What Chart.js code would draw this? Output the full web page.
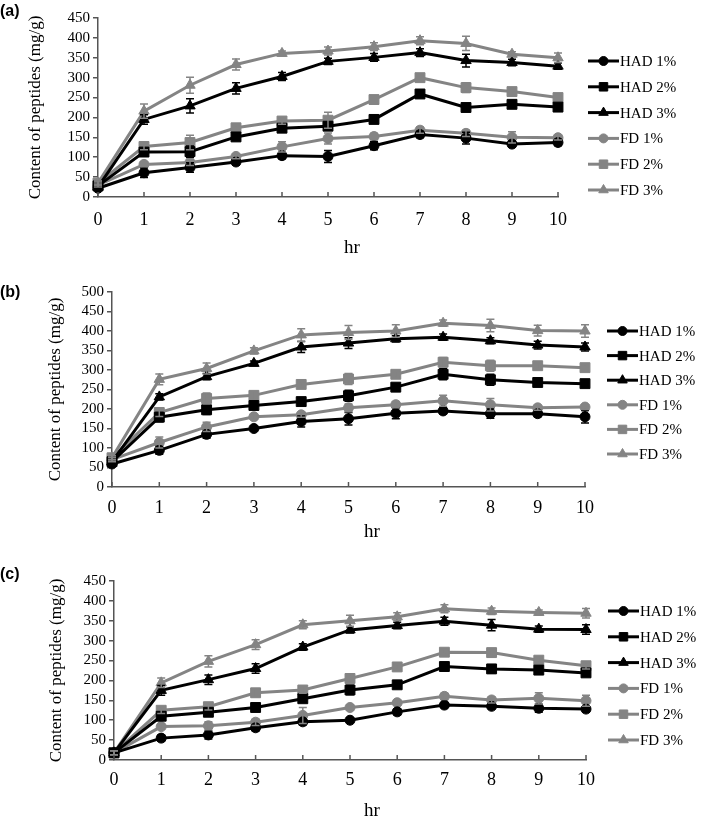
<!DOCTYPE html>
<html>
<head>
<meta charset="utf-8">
<script src="https://cdn.jsdelivr.net/npm/chart.js@4.4.0/dist/chart.umd.min.js"></script>
<style>
  body { margin: 0; background: #fff; }
  canvas { position: absolute; left: 0; }
</style>
</head>
<body>
<canvas id="chartA" width="709" height="270" style="top:0px"></canvas>
<canvas id="chartB" width="709" height="280" style="top:270px"></canvas>
<canvas id="chartC" width="709" height="286" style="top:550px"></canvas>
<script>
// ---- data ----
const hours = ['0', '1', '2', '3', '4', '5', '6', '7', '8', '9', '10'];
const seriesNames = ['HAD 1%', 'HAD 2%', 'HAD 3%', 'FD 1%', 'FD 2%', 'FD 3%'];

// panel (a)
const aHad1 = [22, 61, 74, 88, 104, 102, 129, 157, 148, 133, 137];
const aHad2 = [28, 113, 114, 151, 173, 178, 195, 259, 225, 233, 226];
const aHad3 = [25, 195, 229, 273, 303, 341, 351, 363, 343, 338, 329];
const aFd1 = [30, 82, 87, 102, 126, 147, 152, 168, 160, 150, 149];
const aFd2 = [35, 127, 137, 174, 191, 193, 245, 300, 275, 265, 250];
const aFd3 = [35, 216, 281, 333, 361, 367, 378, 393, 386, 359, 350];
const aHad1Err = [5, 12, 12, 8, 8, 15, 10, 8, 15, 8, 8];
const aHad2Err = [5, 8, 14, 8, 8, 10, 6, 8, 8, 8, 6];
const aHad3Err = [5, 12, 18, 14, 10, 8, 10, 10, 16, 8, 8];
const aFd1Err = [5, 6, 8, 6, 13, 14, 8, 8, 8, 14, 6];
const aFd2Err = [5, 8, 18, 6, 8, 20, 6, 6, 12, 6, 6];
const aFd3Err = [5, 18, 20, 14, 6, 10, 10, 10, 18, 6, 12];

// panel (b)
const bHad1 = [59, 94, 135, 150, 168, 175, 189, 195, 188, 188, 180];
const bHad2 = [65, 179, 198, 209, 219, 234, 256, 289, 275, 268, 265];
const bHad3 = [65, 231, 283, 317, 359, 369, 380, 384, 375, 364, 359];
const bFd1 = [70, 114, 154, 180, 185, 203, 211, 221, 211, 203, 205];
const bFd2 = [75, 191, 227, 235, 263, 277, 289, 320, 311, 311, 306];
const bFd3 = [75, 276, 304, 349, 390, 396, 400, 420, 414, 401, 400];
const bHad1Err = [5, 10, 10, 6, 14, 16, 14, 8, 12, 8, 16];
const bHad2Err = [5, 12, 12, 8, 8, 14, 8, 14, 14, 8, 8];
const bHad3Err = [5, 8, 8, 6, 14, 14, 8, 8, 8, 10, 10];
const bFd1Err = [5, 14, 12, 6, 6, 10, 8, 14, 16, 6, 6];
const bFd2Err = [5, 10, 14, 10, 6, 14, 8, 12, 14, 8, 8];
const bFd3Err = [5, 14, 14, 8, 16, 18, 16, 8, 16, 14, 16];

// panel (c)
const cHad1 = [18, 55, 63, 81, 96, 100, 121, 138, 135, 130, 128];
const cHad2 = [18, 110, 120, 132, 154, 176, 189, 235, 229, 226, 219];
const cHad3 = [18, 175, 202, 230, 284, 327, 338, 349, 339, 329, 328];
const cFd1 = [18, 84, 86, 95, 112, 132, 144, 160, 151, 155, 149];
const cFd2 = [18, 125, 134, 169, 176, 205, 234, 271, 270, 251, 237];
const cFd3 = [18, 194, 248, 290, 340, 350, 360, 380, 374, 371, 369];
const cHad1Err = [5, 8, 10, 8, 8, 6, 8, 6, 6, 10, 8];
const cHad2Err = [5, 8, 8, 8, 8, 12, 8, 10, 10, 10, 8];
const cHad3Err = [5, 12, 12, 12, 8, 8, 8, 10, 14, 8, 12];
const cFd1Err = [5, 6, 10, 8, 20, 6, 6, 8, 8, 14, 14];
const cFd2Err = [5, 8, 8, 10, 8, 10, 6, 6, 6, 6, 8];
const cFd3Err = [5, 12, 14, 12, 10, 14, 10, 10, 8, 6, 12];

// ---- styles ----
const BLACK = '#000000';
const GREY = '#848484';
const AXIS = '#555555';
const SERIF = 'Liberation Serif';
const colors = [BLACK, BLACK, BLACK, GREY, GREY, GREY];
const styles = ['circle', 'rect', 'triangle', 'circle', 'rect', 'triangle'];
const radii = { circle: 5, rect: 7, triangle: 6 };
const legendRadii = { circle: 4.5, rect: 6, triangle: 5.5 };

// error bars, inward x ticks, "hr", legend and panel letter
const decoPlugin = {
  id: 'deco',
  afterDatasetsDraw(chart, args, opts) {
    const ctx = chart.ctx;
    const xs = chart.scales.x, ys = chart.scales.y;
    ctx.save();
    ctx.lineWidth = 1.5;
    chart.data.datasets.forEach((ds) => {
      ctx.strokeStyle = ds.borderColor;
      ds.data.forEach((v, i) => {
        const e = ds.errors[i];
        const x = xs.getPixelForValue(i);
        const y1 = ys.getPixelForValue(v + e);
        const y2 = ys.getPixelForValue(v - e);
        ctx.beginPath();
        ctx.moveTo(x, y1); ctx.lineTo(x, y2);
        ctx.moveTo(x - 4, y1); ctx.lineTo(x + 4, y1);
        ctx.moveTo(x - 4, y2); ctx.lineTo(x + 4, y2);
        ctx.stroke();
      });
    });
    ctx.restore();
  },
  afterDraw(chart, args, opts) {
    const ctx = chart.ctx;
    const xs = chart.scales.x;
    const area = chart.chartArea;
    ctx.save();
    // x ticks pointing up
    ctx.strokeStyle = AXIS;
    ctx.lineWidth = 1.5;
    hours.forEach((h, i) => {
      const x = xs.getPixelForValue(i);
      ctx.beginPath();
      ctx.moveTo(x, area.bottom);
      ctx.lineTo(x, area.bottom - 5);
      ctx.stroke();
    });
    // axis title
    ctx.fillStyle = BLACK;
    ctx.font = '19px "' + SERIF + '"';
    ctx.textAlign = 'center';
    ctx.textBaseline = 'middle';
    ctx.fillText('hr', opts.hrX, opts.hrY);
    // panel letter
    ctx.font = 'bold 16px "Liberation Sans"';
    ctx.textAlign = 'left';
    ctx.fillText(opts.letter, 0, opts.letterY);
    // legend
    ctx.font = '15px "' + SERIF + '"';
    chart.data.datasets.forEach((ds, k) => {
      const y = opts.legendY + k * opts.legendGap;
      const x0 = opts.legendX;
      ctx.strokeStyle = ds.borderColor;
      ctx.fillStyle = ds.borderColor;
      ctx.lineWidth = 3;
      ctx.beginPath();
      ctx.moveTo(x0, y); ctx.lineTo(x0 + 31, y);
      ctx.stroke();
      ctx.lineWidth = 1;
      Chart.helpers.drawPoint(ctx, {
        pointStyle: ds.pointStyle,
        radius: legendRadii[ds.pointStyle],
        rotation: 0,
        borderWidth: 1
      }, x0 + 15.5, y);
      ctx.fillStyle = BLACK;
      ctx.fillText(ds.label, x0 + 32, y + 1);
    });
    ctx.restore();
  }
};

function makePanel(id, values, errors, yMax, g) {
  const canvas = document.getElementById(id);
  const H = canvas.height;
  const datasets = values.map((vals, k) => ({
    label: seriesNames[k],
    data: vals,
    errors: errors[k],
    borderColor: colors[k],
    backgroundColor: colors[k],
    borderWidth: 3,
    pointStyle: styles[k],
    pointRadius: radii[styles[k]],
    pointBorderWidth: 1,
    tension: 0
  }));
  return new Chart(canvas, {
    type: 'line',
    data: { labels: hours, datasets: datasets },
    plugins: [decoPlugin],
    options: {
      responsive: false,
      animation: false,
      layout: { padding: { top: g.top, right: 709 - g.right, bottom: 0, left: 0 } },
      plugins: {
        legend: { display: false },
        tooltip: { enabled: false },
        deco: g.deco
      },
      scales: {
        x: {
          type: 'category',
          offset: false,
          afterFit: (s) => { s.height = H - g.bottom; },
          grid: { drawOnChartArea: false, drawTicks: false },
          border: { color: AXIS, width: 1.5 },
          ticks: { color: BLACK, padding: g.xPad, font: { family: SERIF, size: 18 }, maxRotation: 0, autoSkip: false }
        },
        y: {
          min: 0,
          max: yMax,
          afterFit: (s) => { s.width = g.left; },
          grid: { drawOnChartArea: false, drawTicks: true, tickLength: 5, color: AXIS, lineWidth: 1.5 },
          border: { color: AXIS, width: 1.5 },
          ticks: { stepSize: 50, autoSkip: false, color: BLACK, padding: 3, font: { family: SERIF, size: 15 } },
          title: {
            display: true,
            text: 'Content of peptides (mg/g)',
            color: BLACK,
            font: { family: SERIF, size: 17 },
            padding: { top: g.titlePad, bottom: 0 }
          }
        }
      }
    }
  });
}

makePanel('chartA',
  [aHad1, aHad2, aHad3, aFd1, aFd2, aFd3],
  [aHad1Err, aHad2Err, aHad3Err, aFd1Err, aFd2Err, aFd3Err],
  450,
  { left: 98, right: 558, top: 18, bottom: 197, xPad: 12, titlePad: 25,
    deco: { letter: '(a)', letterY: 12, hrX: 352, hrY: 248, legendX: 588, legendY: 61, legendGap: 25.8 } });

makePanel('chartB',
  [bHad1, bHad2, bHad3, bFd1, bFd2, bFd3],
  [bHad1Err, bHad2Err, bHad3Err, bFd1Err, bFd2Err, bFd3Err],
  500,
  { left: 112, right: 585, top: 22, bottom: 217, xPad: 10, titlePad: 45,
    deco: { letter: '(b)', letterY: 23, hrX: 372, hrY: 262, legendX: 607, legendY: 61, legendGap: 24.6 } });

makePanel('chartC',
  [cHad1, cHad2, cHad3, cFd1, cFd2, cFd3],
  [cHad1Err, cHad2Err, cHad3Err, cFd1Err, cFd2Err, cFd3Err],
  450,
  { left: 114, right: 586, top: 31, bottom: 210, xPad: 9, titlePad: 46,
    deco: { letter: '(c)', letterY: 25, hrX: 372, hrY: 261, legendX: 608, legendY: 61, legendGap: 25.8 } });
</script>
</body>
</html>
